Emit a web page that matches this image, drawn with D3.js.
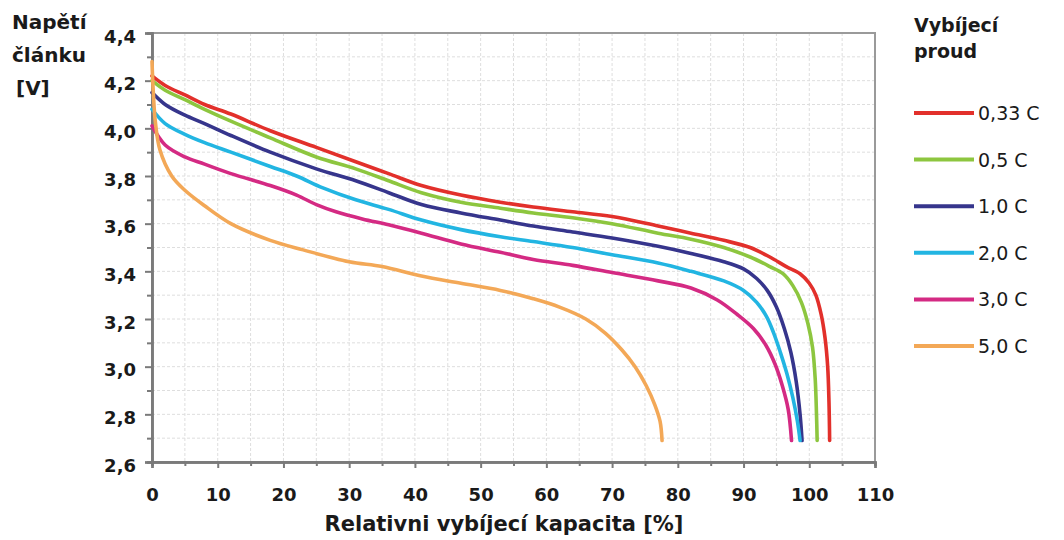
<!DOCTYPE html>
<html>
<head>
<meta charset="utf-8">
<script src="https://cdn.jsdelivr.net/npm/d3@7"></script>
<style>
  body { margin: 0; background: #fff; }
  svg text { font-family: "DejaVu Sans", Verdana, sans-serif; font-weight: bold; fill: #1a1a1a; }
</style>
</head>
<body>
<div id="chart"></div>
<script>
// vybíjecí křivky článku – kapacita [%] vs. napětí [V]
const seriesNames = ["0,33 C", "0,5 C", "1,0 C", "2,0 C", "3,0 C", "5,0 C"];
const seriesColors = ["#e2302b", "#8dc63f", "#36358c", "#22b5e2", "#d42a83", "#f3a857"];

const c033 = [[0,4.22],[2,4.18],[5,4.14],[8,4.10],[12,4.06],[18,3.99],[25,3.92],[31,3.86],[36,3.81],[41,3.76],[47,3.72],[53,3.69],[58,3.67],[64,3.65],[70,3.63],[77,3.59],[82,3.56],[87,3.53],[91,3.50],[94,3.46],[96.5,3.42],[98.6,3.39],[100,3.35],[101,3.30],[101.8,3.22],[102.4,3.12],[102.8,3.0],[103,2.85],[103.1,2.69]];
const c05 = [[0,4.20],[2,4.16],[5,4.12],[8,4.08],[12,4.03],[18,3.96],[25,3.88],[31,3.83],[36,3.78],[41,3.73],[47,3.69],[53,3.665],[58,3.645],[64,3.625],[70,3.60],[77,3.56],[82,3.535],[87,3.50],[91,3.46],[94,3.42],[96,3.39],[97.5,3.34],[98.8,3.27],[99.8,3.18],[100.5,3.08],[100.9,2.95],[101.1,2.8],[101.2,2.69]];
const c10 = [[0,4.15],[2,4.10],[5,4.055],[8,4.02],[12,3.97],[18,3.90],[25,3.83],[31,3.78],[36,3.73],[41,3.68],[47,3.645],[53,3.615],[58,3.59],[64,3.565],[70,3.54],[77,3.505],[82,3.475],[87,3.44],[90,3.41],[92,3.37],[93.6,3.32],[95,3.25],[96.2,3.16],[97.2,3.06],[98,2.94],[98.6,2.80],[98.9,2.69]];
const c20 = [[0,4.08],[2,4.02],[5,3.975],[8,3.94],[12,3.90],[18,3.84],[22,3.80],[26,3.75],[31,3.70],[36,3.66],[41,3.615],[47,3.575],[53,3.545],[58,3.525],[64,3.50],[70,3.47],[77,3.435],[82,3.40],[87,3.36],[90,3.32],[92,3.27],[93.5,3.21],[94.6,3.14],[95.6,3.06],[96.6,2.97],[97.5,2.87],[98.2,2.77],[98.6,2.69]];
const c30 = [[0,4.01],[2,3.93],[5,3.88],[8,3.85],[12,3.81],[18,3.76],[22,3.72],[25,3.68],[28,3.65],[32,3.62],[36,3.595],[41,3.56],[47,3.515],[53,3.48],[58,3.45],[64,3.425],[70,3.395],[77,3.36],[82,3.33],[86,3.28],[89,3.22],[91.5,3.16],[93.4,3.09],[94.8,3.01],[95.9,2.92],[96.8,2.82],[97.3,2.69]];
const c50 = [[0,4.28],[0.2,4.15],[0.5,4.03],[1.2,3.91],[3,3.80],[5,3.74],[8,3.675],[12,3.60],[18,3.53],[23,3.49],[30,3.44],[35,3.42],[41,3.38],[47,3.35],[53,3.32],[58,3.285],[62,3.25],[66,3.20],[69,3.14],[71.5,3.07],[73.5,3.0],[75.2,2.92],[76.5,2.84],[77.3,2.77],[77.6,2.69]];
const seriesData = [c033, c05, c10, c20, c30, c50];

const xTicks = [0, 10, 20, 30, 40, 50, 60, 70, 80, 90, 100, 110];
const yTicks = [2.6, 2.8, 3.0, 3.2, 3.4, 3.6, 3.8, 4.0, 4.2, 4.4];

const W = 1064, H = 540;
const margin = { top: 33, right: 189, bottom: 78, left: 152 };
const width = W - margin.left - margin.right;
const height = H - margin.top - margin.bottom;

const svg = d3.select("#chart").append("svg").attr("width", W).attr("height", H);
const g = svg.append("g").attr("transform", `translate(${margin.left},${margin.top})`);

const x = d3.scaleLinear().domain([0, 110]).range([0, width]);
const y = d3.scaleLinear().domain([2.6, 4.4]).range([height, 0]);
const fmt = (v) => d3.format(".1f")(v).replace(".", ",");

// mřížka
g.append("g")
    .selectAll("line")
    .data(d3.range(5, 110, 5))
    .join("line")
    .attr("x1", (d) => x(d)).attr("x2", (d) => x(d))
    .attr("y1", 0).attr("y2", height)
    .attr("stroke", "#dedede").attr("stroke-dasharray", "3,2");
g.append("g")
    .selectAll("line")
    .data(d3.range(27, 44, 1).map((d) => d / 10))
    .join("line")
    .attr("x1", 0).attr("x2", width)
    .attr("y1", (d) => y(d)).attr("y2", (d) => y(d))
    .attr("stroke", "#dedede").attr("stroke-dasharray", "3,2");

// rámeček
g.append("rect")
    .attr("width", width).attr("height", height)
    .attr("fill", "none").attr("stroke", "#9a9a9a").attr("stroke-width", 2);

// osy
const xAxis = g.append("g")
    .attr("transform", `translate(0,${height})`)
    .call(d3.axisBottom(x).tickValues(xTicks).tickSize(6).tickPadding(20).tickFormat(d3.format("d")));
const xMinor = g.append("g")
    .attr("transform", `translate(0,${height})`)
    .call(d3.axisBottom(x).tickValues(d3.range(5, 110, 10)).tickSize(4).tickFormat(""));
const yAxis = g.append("g")
    .call(d3.axisLeft(y).tickValues(yTicks).tickSize(7).tickPadding(9).tickFormat(fmt));
const yMinor = g.append("g")
    .call(d3.axisLeft(y).tickValues(d3.range(27, 44, 2).map((d) => d / 10)).tickSize(5).tickFormat(""));

[xAxis, xMinor, yAxis, yMinor].forEach((a) => {
    a.select(".domain").attr("stroke", "#7a7a7a").attr("stroke-width", 2.5);
    a.selectAll(".tick line").attr("stroke", "#7a7a7a").attr("stroke-width", 2);
    a.selectAll("text").style("font-size", "18px").attr("fill", "#1a1a1a");
});
yAxis.selectAll("text").attr("dy", "0.5em");

// křivky
const line = d3.line()
    .x((d) => x(d[0]))
    .y((d) => y(d[1]))
    .curve(d3.curveCatmullRom.alpha(0.5));

g.selectAll(".curve")
    .data(seriesData)
    .join("path")
    .attr("class", "curve")
    .attr("d", line)
    .attr("fill", "none")
    .attr("stroke", (d, i) => seriesColors[i])
    .attr("stroke-width", 3.6)
    .attr("stroke-linejoin", "round")
    .attr("stroke-linecap", "round");

// popisky os
svg.append("text").attr("x", 12).attr("y", 29).style("font-size", "20px").text("Napětí");
svg.append("text").attr("x", 12).attr("y", 62).style("font-size", "20px").text("článku");
svg.append("text").attr("x", 16).attr("y", 95).style("font-size", "20px").text("[V]");

svg.append("text")
    .attr("x", 504).attr("y", 531)
    .attr("text-anchor", "middle")
    .style("font-size", "21px")
    .text("Relativni vybíjecí kapacita [%]");

// legenda
svg.append("text").attr("x", 914).attr("y", 32).style("font-size", "19px").text("Vybíjecí");
svg.append("text").attr("x", 914).attr("y", 58).style("font-size", "19px").text("proud");

const legend = svg.append("g").attr("transform", "translate(914,113)");
seriesNames.forEach((name, i) => {
    const row = legend.append("g").attr("transform", `translate(0,${i * 46.6})`);
    row.append("line")
        .attr("x1", 0).attr("x2", 60)
        .attr("stroke", seriesColors[i]).attr("stroke-width", 4);
    row.append("text")
        .attr("x", 64).attr("y", 7)
        .style("font-size", "19px")
        .style("font-weight", "normal")
        .text(name);
});
</script>
</body>
</html>
